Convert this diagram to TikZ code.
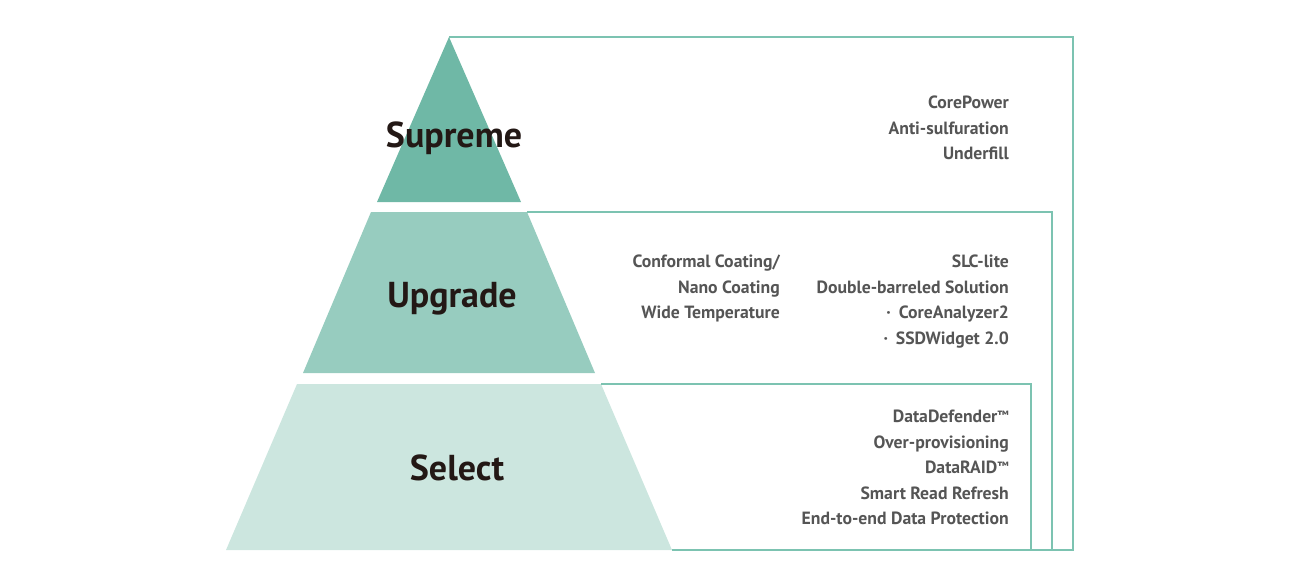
\documentclass[tikz,border=0pt]{standalone}
\usepackage{fontspec}
\setmainfont{PT Sans}
\usepackage{xcolor}
\usetikzlibrary{positioning,calc}

\definecolor{tiertop}{HTML}{6FB8A6}
\definecolor{tiermid}{HTML}{97CCBF}
\definecolor{tierlow}{HTML}{CCE6DF}
\definecolor{frameline}{HTML}{7CC3B1}
\definecolor{titletext}{HTML}{231815}
\definecolor{itemtext}{HTML}{555555}

\newcommand{\tmark}{{\fontsize{12}{12}\selectfont\raisebox{0.25em}{™}}}

\begin{document}
\begin{tikzpicture}[
    x=1pt, y=-1pt,
    frame/.style={draw=frameline, line width=1.8pt, line join=miter},
    title/.style={font=\fontsize{36}{40}\selectfont\bfseries, text=titletext, inner sep=0pt},
    items/.style={font=\fontsize{17.7}{25.5}\selectfont\bfseries, text=itemtext, align=right, anchor=north east, inner sep=0pt}
]
\useasboundingbox (0,0) rectangle (1300,588);

% Corners of the three tiers
\coordinate (apex) at (449,37);
\coordinate (t1bl) at (377,202);
\coordinate (t1br) at (521,202);
\coordinate (t2tl) at (371,212);
\coordinate (t2tr) at (527,212);
\coordinate (t2br) at (595,373);
\coordinate (t2bl) at (303,373);
\coordinate (t3tl) at (297,384);
\coordinate (t3tr) at (601,384);
\coordinate (t3br) at (672,550);
\coordinate (t3bl) at (226,550);

% Tier shapes
\fill[tiertop] (apex) -- (t1br) -- (t1bl) -- cycle;
\fill[tiermid] (t2tl) -- (t2tr) -- (t2br) -- (t2bl) -- cycle;
\fill[tierlow] (t3tl) -- (t3tr) -- (t3br) -- (t3bl) -- cycle;

% Frame corners
\coordinate (f1tr) at (1073,37);
\coordinate (f1br) at (1073,550);
\coordinate (f2tr) at (1052,212);
\coordinate (f2br) at (1052,550);
\coordinate (f3tr) at (1031,384);
\coordinate (f3br) at (1031,550);

% Frames
\draw[frame] (apex) -- (f1tr) -- (f1br) -- (t3br);
\draw[frame] (t2tr) -- (f2tr) -- (f2br);
\draw[frame] (t3tr) -- (f3tr) -- (f3br);

% Tier titles
\node[title] (supreme) at (454,138) {Supreme};
\node[title] (upgrade) at (452,299) {Upgrade};
\node[title] (select) at (457,468) {Select};

% Features
\node[items] (supremeitems) at (1009,96) {CorePower\\Anti-sulfuration\\Underfill};
\node[items] (upgradeleft) at (780,255) {Conformal Coating/\\Nano Coating\\Wide Temperature};
\node[items] (upgraderight) at (1009,255) {SLC-lite\\Double-barreled Solution\\%
  ·\hspace{0.45em}CoreAnalyzer2\\·\hspace{0.45em}SSDWidget 2.0};
\node[items] (selectitems) at (1009,410) {DataDefender\tmark\\Over-provisioning\\DataRAID\tmark\\%
  Smart Read Refresh\\End-to-end Data Protection};

\end{tikzpicture}
\end{document}
